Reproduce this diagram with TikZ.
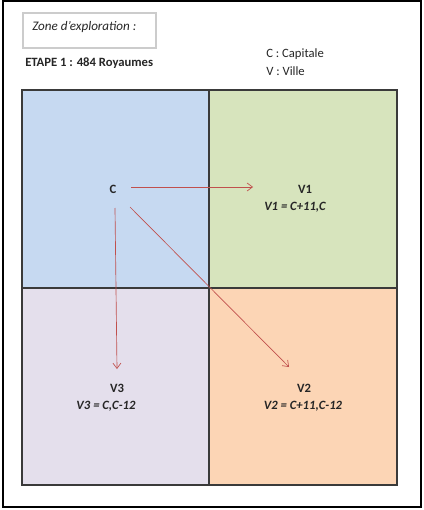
\documentclass[tikz,border=0pt]{standalone}
\usepackage{fontspec}
\setmainfont{Carlito}
\usetikzlibrary{arrows.meta}
\definecolor{cblue}{HTML}{C6D9F1}
\definecolor{cgreen}{HTML}{D7E4BD}
\definecolor{clav}{HTML}{E4DFEC}
\definecolor{cpeach}{HTML}{FCD5B5}
\definecolor{carrow}{HTML}{C0504D}
\definecolor{cgrid}{HTML}{3A3A3A}
\tikzset{
  cell/.style={fill=#1, draw=cgrid, line width=0.8pt},
  lbl/.style={font=\fontsize{9.5}{11}\selectfont\bfseries, text=black!85, inner sep=0pt},
  formula/.style={font=\fontsize{9.5}{11}\selectfont\bfseries\itshape, text=black!85, inner sep=0pt},
  plain/.style={font=\fontsize{9.5}{11}\selectfont, text=black!85, inner sep=0pt, anchor=west},
  arr/.style={draw=carrow, line width=0.5pt, -{Straight Barb[length=4pt,width=6pt]}}
}
\begin{document}
\begin{tikzpicture}[x=0.75pt,y=-0.75pt]
\useasboundingbox (0,0) rectangle (424,510);
\fill[white] (0,0) rectangle (424,510);
% outer frame
\draw[black, line width=0.8pt] (3,1) rectangle (421,507);
% zone box
\draw[black!20, line width=0.8pt] (23,13) rectangle (156,48);
\node[font=\fontsize{9.8}{11}\selectfont\itshape, text=black!85, inner sep=0pt, anchor=west] (zone) at (32,27) {Zone d'exploration :};
\node[lbl, anchor=west] (etape) at (25,63) {ETAPE 1 : 484 Royaumes};
\node[plain] (leg1) at (266,54) {C : Capitale};
\node[plain] (leg2) at (266,71) {V : Ville};
% cells
\draw[cell=cblue] (22,90) rectangle (209,288);
\draw[cell=cgreen] (209,90) rectangle (397,288);
\draw[cell=clav] (22,288) rectangle (209,485);
\draw[cell=cpeach] (209,288) rectangle (397,485);
% labels
\node[lbl] (C) at (113,189) {C};
\node[lbl] (V1) at (305,189) {V1};
\node[formula] (F1) at (295,207) {V1 = C+11,C};
\node[lbl] (V3) at (117,388) {V3};
\node[formula] (F3) at (106,406) {V3 = C,C-12};
\node[lbl] (V2) at (304,388) {V2};
\node[formula] (F2) at (303,406) {V2 = C+11,C-12};
% arrows
\coordinate (s1) at (131,187);
\coordinate (e1) at (253,187);
\coordinate (s2) at (115,208);
\coordinate (e2) at (117,369);
\coordinate (s3) at (130,207);
\coordinate (e3) at (289,367);
\draw[arr] (s1) -- (e1);
\draw[arr] (s2) -- (e2);
\draw[arr] (s3) -- (e3);
\end{tikzpicture}
\end{document}
